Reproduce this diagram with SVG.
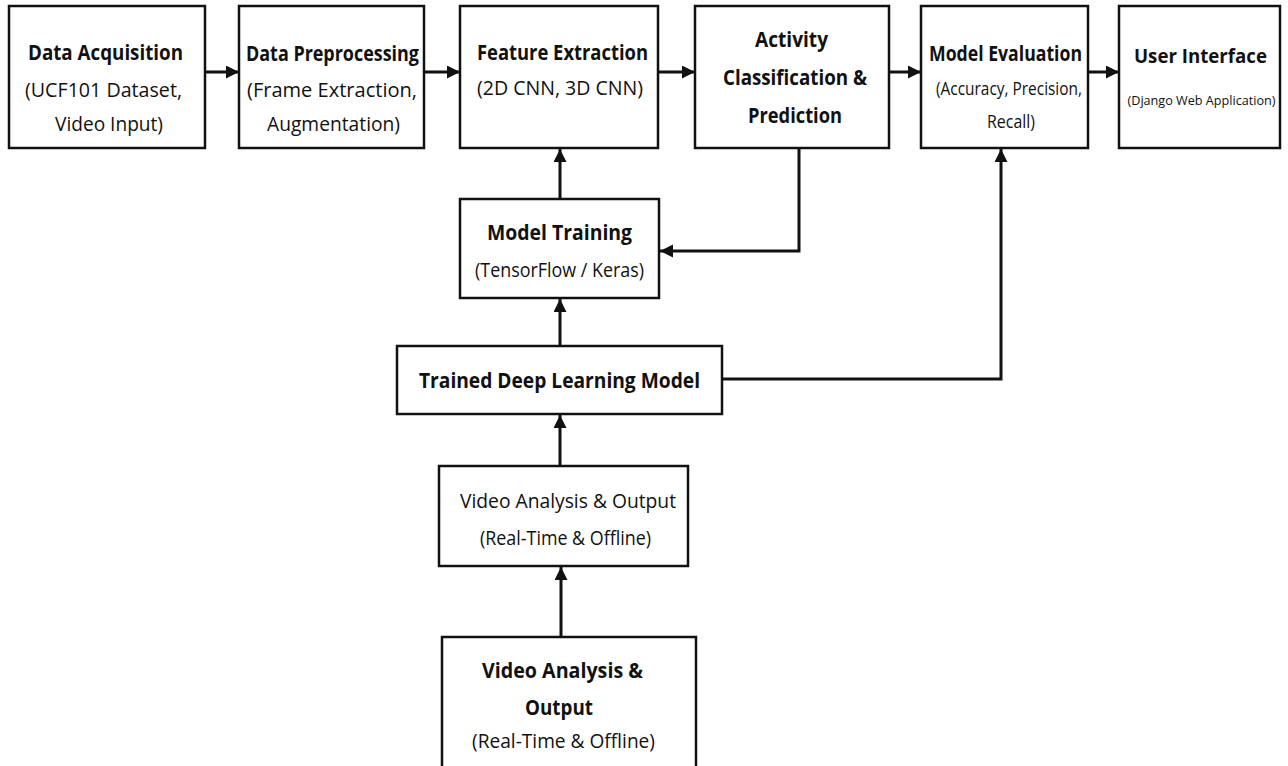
<svg xmlns="http://www.w3.org/2000/svg" width="1288" height="766" viewBox="0 0 1288 766">
  <defs>
    <marker id="arrow" markerUnits="userSpaceOnUse" markerWidth="14" markerHeight="14" refX="13" refY="6.5" orient="auto">
      <path d="M0,0 L13,6.5 L0,13 z" fill="#111"/>
    </marker>
    <style>
      .box { fill: #fff; stroke: #111; stroke-width: 2.5; }
      .t { font-family: "Open Sans", "Noto Sans", sans-serif; fill: #111; text-anchor: middle; }
      .b { font-weight: bold; font-size: 22px; }
      .r { font-weight: normal; font-size: 20px; }
      .s { font-weight: normal; font-size: 18px; }
      .xs { font-weight: normal; font-size: 13px; }
      .bl { font-weight: bold; font-size: 20px; }
      .c { fill: none; stroke: #111; stroke-width: 3; }
    </style>
  </defs>
  <rect width="1288" height="766" fill="#fff"/>

  <g id="connectors">
    <line class="c" x1="205" y1="72" x2="239" y2="72" marker-end="url(#arrow)"/>
    <line class="c" x1="424" y1="72" x2="460" y2="72" marker-end="url(#arrow)"/>
    <line class="c" x1="658" y1="72" x2="695" y2="72" marker-end="url(#arrow)"/>
    <line class="c" x1="889" y1="72" x2="921" y2="72" marker-end="url(#arrow)"/>
    <line class="c" x1="1088" y1="72" x2="1119" y2="72" marker-end="url(#arrow)"/>
    <line class="c" x1="560" y1="199" x2="560" y2="149" marker-end="url(#arrow)"/>
    <polyline class="c" points="799,148 799,251 660,251" marker-end="url(#arrow)"/>
    <line class="c" x1="560" y1="346" x2="560" y2="299" marker-end="url(#arrow)"/>
    <polyline class="c" points="722,379 1001,379 1001,149" marker-end="url(#arrow)"/>
    <line class="c" x1="560" y1="466" x2="560" y2="415" marker-end="url(#arrow)"/>
    <line class="c" x1="561" y1="637" x2="561" y2="567" marker-end="url(#arrow)"/>
  </g>

  <g id="data-acquisition">
    <rect class="box" x="9" y="6" width="196" height="142"/>
    <text class="t b" x="105.5" y="60" textLength="155" lengthAdjust="spacingAndGlyphs">Data Acquisition</text>
    <text class="t r" x="103.5" y="97" textLength="157" lengthAdjust="spacingAndGlyphs">(UCF101 Dataset,</text>
    <text class="t r" x="109" y="131" textLength="108" lengthAdjust="spacingAndGlyphs">Video Input)</text>
  </g>

  <g id="data-preprocessing">
    <rect class="box" x="239" y="6" width="185" height="142"/>
    <text class="t b" x="332.5" y="61" textLength="173" lengthAdjust="spacingAndGlyphs">Data Preprocessing</text>
    <text class="t r" x="332" y="97" textLength="170" lengthAdjust="spacingAndGlyphs">(Frame Extraction,</text>
    <text class="t r" x="333.5" y="131" textLength="133" lengthAdjust="spacingAndGlyphs">Augmentation)</text>
  </g>

  <g id="feature-extraction">
    <rect class="box" x="460" y="6" width="198" height="142"/>
    <text class="t b" x="562.5" y="60" textLength="171" lengthAdjust="spacingAndGlyphs">Feature Extraction</text>
    <text class="t r" x="560" y="95" textLength="166" lengthAdjust="spacingAndGlyphs">(2D CNN, 3D CNN)</text>
  </g>

  <g id="activity-classification">
    <rect class="box" x="695" y="6" width="194" height="142"/>
    <text class="t b" x="791.5" y="47" textLength="73" lengthAdjust="spacingAndGlyphs">Activity</text>
    <text class="t b" x="795" y="85" textLength="144" lengthAdjust="spacingAndGlyphs">Classification &amp;</text>
    <text class="t b" x="795" y="123" textLength="94" lengthAdjust="spacingAndGlyphs">Prediction</text>
  </g>

  <g id="model-evaluation">
    <rect class="box" x="921" y="6" width="167" height="142"/>
    <text class="t b" x="1005.5" y="61" textLength="153" lengthAdjust="spacingAndGlyphs">Model Evaluation</text>
    <text class="t s" x="1009" y="95" textLength="146" lengthAdjust="spacingAndGlyphs">(Accuracy, Precision,</text>
    <text class="t s" x="1011" y="128" textLength="48" lengthAdjust="spacingAndGlyphs">Recall)</text>
  </g>

  <g id="user-interface">
    <rect class="box" x="1119" y="6" width="161" height="142"/>
    <text class="t bl" x="1200.5" y="63" textLength="133" lengthAdjust="spacingAndGlyphs">User Interface</text>
    <text class="t xs" x="1201.5" y="105" textLength="148" lengthAdjust="spacingAndGlyphs">(Django Web Application)</text>
  </g>

  <g id="model-training">
    <rect class="box" x="460" y="199" width="199" height="99"/>
    <text class="t b" x="559.5" y="240" textLength="145" lengthAdjust="spacingAndGlyphs">Model Training</text>
    <text class="t r" x="559.5" y="277" textLength="169" lengthAdjust="spacingAndGlyphs">(TensorFlow / Keras)</text>
  </g>

  <g id="trained-model">
    <rect class="box" x="397" y="346" width="325" height="68"/>
    <text class="t b" x="559.5" y="388" textLength="281" lengthAdjust="spacingAndGlyphs">Trained Deep Learning Model</text>
  </g>

  <g id="video-analysis-output">
    <rect class="box" x="439" y="466" width="249" height="100"/>
    <text class="t r" x="568" y="508" textLength="216" lengthAdjust="spacingAndGlyphs">Video Analysis &amp; Output</text>
    <text class="t r" x="565.5" y="545" textLength="171" lengthAdjust="spacingAndGlyphs">(Real-Time &amp; Offline)</text>
  </g>

  <g id="video-analysis-output-2">
    <rect class="box" x="442" y="637" width="254" height="140"/>
    <text class="t b" x="562.5" y="678" textLength="161" lengthAdjust="spacingAndGlyphs">Video Analysis &amp;</text>
    <text class="t b" x="559" y="715" textLength="68" lengthAdjust="spacingAndGlyphs">Output</text>
    <text class="t r" x="563.5" y="748" textLength="183" lengthAdjust="spacingAndGlyphs">(Real-Time &amp; Offline)</text>
  </g>
</svg>
